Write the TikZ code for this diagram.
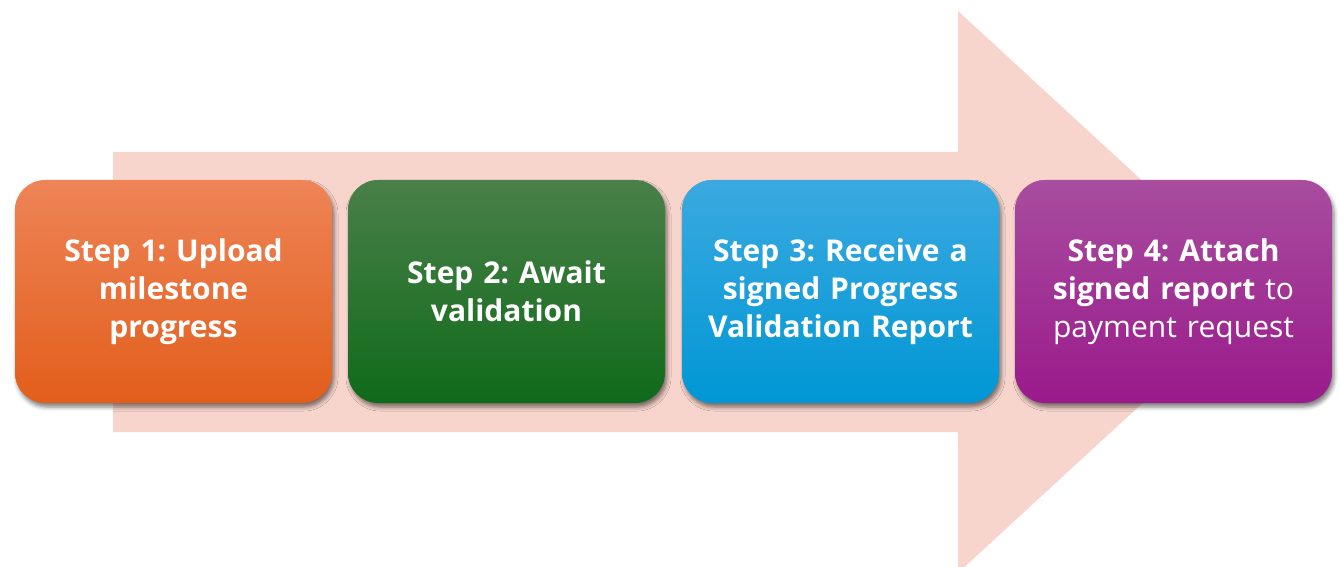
\documentclass[tikz,border=0pt]{standalone}
\usepackage{fontspec}
\setmainfont{Open Sans}
\frenchspacing
\usetikzlibrary{shadows.blur}
\definecolor{arrowpink}{HTML}{F7D5CC}
\definecolor{oTop}{HTML}{EE8457}
\definecolor{oBot}{HTML}{E25E1B}
\definecolor{gTop}{HTML}{4A8049}
\definecolor{gBot}{HTML}{0F6A1A}
\definecolor{bTop}{HTML}{3BA9E0}
\definecolor{bBot}{HTML}{0097D5}
\definecolor{pTop}{HTML}{A84D9F}
\definecolor{pBot}{HTML}{9A1A8B}
\begin{document}
\begin{tikzpicture}[x=1pt,y=-1pt,
  stepbox/.style={rounded corners=30pt, minimum width=317pt, minimum height=223pt,
    text width=305pt, align=center, text=white, inner sep=0pt,
    font=\fontsize{30}{38}\selectfont\bfseries,
    blur shadow={shadow xshift=2pt, shadow yshift=-4pt, shadow blur radius=4pt, shadow opacity=50}}]
\useasboundingbox (0,0) rectangle (1339,567);
\clip (0,0) rectangle (1339,567);
\fill[arrowpink] (113,152) -- (958,152) -- (958,11) -- (1263,292) -- (958,573) -- (958,432) -- (113,432) -- cycle;
\node[stepbox, top color=oTop, bottom color=oBot] (s1) at (173.5,291.5) {Step 1: Upload\\milestone\\progress};
\node[stepbox, top color=gTop, bottom color=gBot] (s2) at (506.5,291.5) {Step 2: Await\\validation};
\node[stepbox, top color=bTop, bottom color=bBot] (s3) at (840.5,291.5) {Step 3: Receive a\\signed Progress\\Validation Report};
\node[stepbox, top color=pTop, bottom color=pBot] (s4) at (1173.5,291.5) {Step 4: Attach\\signed report {\mdseries to}\\{\mdseries payment request}};
\end{tikzpicture}
\end{document}
